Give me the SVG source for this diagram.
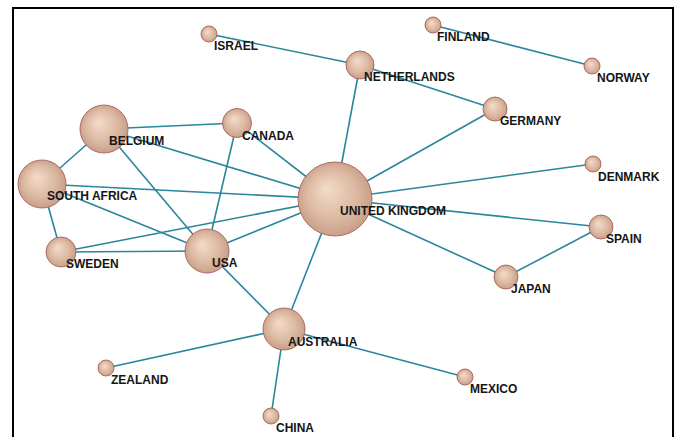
<svg xmlns="http://www.w3.org/2000/svg" width="677" height="437" viewBox="0 0 677 437">
<defs>
<radialGradient id="ball" cx="0.5" cy="0.5" r="0.55" fx="0.38" fy="0.35">
<stop offset="0" stop-color="#f4dccb"/>
<stop offset="0.6" stop-color="#dcb9a2"/>
<stop offset="1" stop-color="#c49a84"/>
</radialGradient>
</defs>
<style>
.n{fill:url(#ball);stroke:#a8605a;stroke-width:0.9}
.l{font-family:"Liberation Sans",Arial,sans-serif;font-weight:bold;font-size:12px;fill:#151515}
.e line{stroke:#2a869c;stroke-width:1.6}
</style>
<rect x="0" y="0" width="677" height="437" fill="#fff"/>
<rect x="13" y="8" width="660" height="440" fill="none" stroke="#000" stroke-width="2"/>
<g class="e" id="edges">
<line x1="209" y1="34" x2="360" y2="65"/>
<line x1="433" y1="25" x2="592" y2="66"/>
<line x1="360" y1="65" x2="495" y2="109"/>
<line x1="360" y1="65" x2="335" y2="199"/>
<line x1="495" y1="109" x2="335" y2="199"/>
<line x1="335" y1="199" x2="593" y2="164"/>
<line x1="335" y1="199" x2="601" y2="227"/>
<line x1="335" y1="199" x2="506" y2="277"/>
<line x1="506" y1="277" x2="601" y2="227"/>
<line x1="104" y1="129" x2="237" y2="123"/>
<line x1="104" y1="129" x2="335" y2="199"/>
<line x1="104" y1="129" x2="42" y2="184"/>
<line x1="104" y1="129" x2="207" y2="251"/>
<line x1="237" y1="123" x2="335" y2="199"/>
<line x1="237" y1="123" x2="207" y2="251"/>
<line x1="42" y1="184" x2="335" y2="199"/>
<line x1="42" y1="184" x2="207" y2="251"/>
<line x1="42" y1="184" x2="61" y2="252"/>
<line x1="61" y1="252" x2="207" y2="251"/>
<line x1="61" y1="252" x2="335" y2="199"/>
<line x1="207" y1="251" x2="335" y2="199"/>
<line x1="207" y1="251" x2="284" y2="329"/>
<line x1="335" y1="199" x2="284" y2="329"/>
<line x1="284" y1="329" x2="106" y2="368"/>
<line x1="284" y1="329" x2="465" y2="377"/>
<line x1="284" y1="329" x2="271" y2="416"/>
</g>
<g id="israel"><circle class="n" cx="209" cy="34" r="8"/><text class="l" x="214" y="50">ISRAEL</text></g>
<g id="finland"><circle class="n" cx="433" cy="25" r="8"/><text class="l" x="437" y="41">FINLAND</text></g>
<g id="netherlands"><circle class="n" cx="360" cy="65" r="14"/><text class="l" x="364" y="81">NETHERLANDS</text></g>
<g id="norway"><circle class="n" cx="592" cy="66" r="8"/><text class="l" x="597" y="82">NORWAY</text></g>
<g id="germany"><circle class="n" cx="495" cy="109" r="12"/><text class="l" x="500" y="125">GERMANY</text></g>
<g id="belgium"><circle class="n" cx="104" cy="129" r="24"/><text class="l" x="109" y="145">BELGIUM</text></g>
<g id="canada"><circle class="n" cx="237" cy="123" r="14.5"/><text class="l" x="242" y="140">CANADA</text></g>
<g id="south-africa"><circle class="n" cx="42" cy="184" r="24"/><text class="l" x="47" y="200">SOUTH AFRICA</text></g>
<g id="united-kingdom"><circle class="n" cx="335" cy="199" r="37"/><text class="l" x="340" y="215">UNITED KINGDOM</text></g>
<g id="denmark"><circle class="n" cx="593" cy="164" r="8"/><text class="l" x="598" y="181">DENMARK</text></g>
<g id="spain"><circle class="n" cx="601" cy="227" r="12"/><text class="l" x="606" y="243">SPAIN</text></g>
<g id="sweden"><circle class="n" cx="61" cy="252" r="15"/><text class="l" x="66" y="268">SWEDEN</text></g>
<g id="usa"><circle class="n" cx="207" cy="251" r="22"/><text class="l" x="212" y="267">USA</text></g>
<g id="japan"><circle class="n" cx="506" cy="277" r="12"/><text class="l" x="511" y="293">JAPAN</text></g>
<g id="australia"><circle class="n" cx="284" cy="329" r="21"/><text class="l" x="288" y="346">AUSTRALIA</text></g>
<g id="zealand"><circle class="n" cx="106" cy="368" r="8"/><text class="l" x="111" y="384">ZEALAND</text></g>
<g id="mexico"><circle class="n" cx="465" cy="377" r="8"/><text class="l" x="470" y="393">MEXICO</text></g>
<g id="china"><circle class="n" cx="271" cy="416" r="8"/><text class="l" x="276" y="432">CHINA</text></g>
</svg>
